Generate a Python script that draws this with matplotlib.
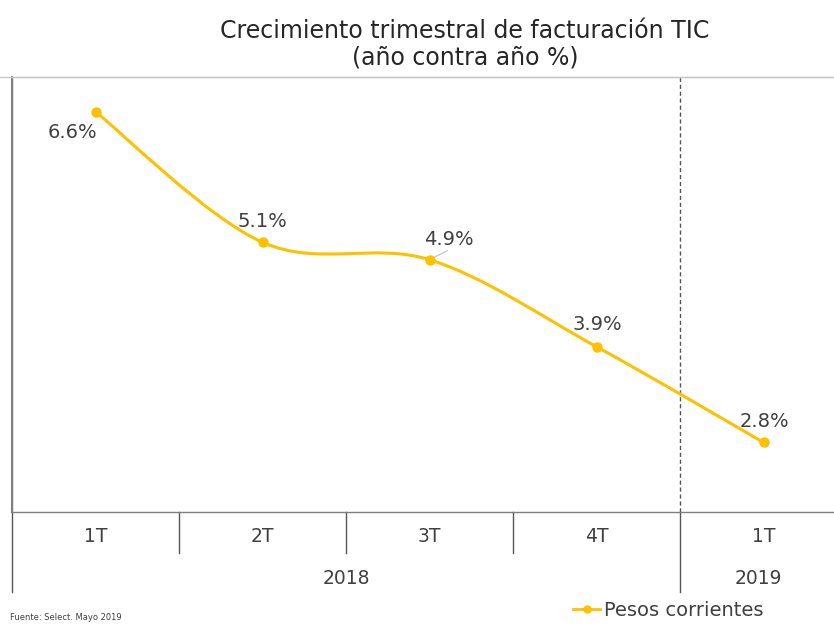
import matplotlib
matplotlib.use("Agg")
import matplotlib.pyplot as plt
from matplotlib.path import Path
from matplotlib.patches import PathPatch
from matplotlib.lines import Line2D

quarters = ["1T", "2T", "3T", "4T", "1T"]
years = ["2018", "2019"]
values = [6.6, 5.1, 4.9, 3.9, 2.8]
labels = ["6.6%", "5.1%", "4.9%", "3.9%", "2.8%"]
series_name = "Pesos corrientes"
title = "Crecimiento trimestral de facturación TIC\n(año contra año %)"
source = "Fuente: Select. Mayo 2019"

GOLD = "#FFC000"
TXT = "#404040"
GRID = "#7f7f7f"

W, H = 834, 628
fig = plt.figure(figsize=(W / 100, H / 100), dpi=100)
ax_left, ax_bottom, ax_top = 12, 512, 77
ax = fig.add_axes([ax_left / W, (H - ax_bottom) / H, 1 - ax_left / W, (ax_bottom - ax_top) / H])

step = 167.0
ax.set_xlim(-0.5, -0.5 + (W - ax_left) / step)
ax.set_ylim(2.0, 7.0)

xs = list(range(len(values)))
# smoothed line via Bezier segments (Catmull-Rom style control points)
pts = list(zip(xs, values))
verts = [pts[0]]
codes = [Path.MOVETO]
n = len(pts)
for i in range(n - 1):
    p0 = pts[i - 1] if i > 0 else pts[i]
    p1 = pts[i]
    p2 = pts[i + 1]
    p3 = pts[i + 2] if i + 2 < n else pts[i + 1]
    c1 = (p1[0] + (p2[0] - p0[0]) / 6, p1[1] + (p2[1] - p0[1]) / 6)
    c2 = (p2[0] - (p3[0] - p1[0]) / 6, p2[1] - (p3[1] - p1[1]) / 6)
    verts += [c1, c2, p2]
    codes += [Path.CURVE4] * 3
ax.add_patch(PathPatch(Path(verts, codes), facecolor="none", edgecolor=GOLD, lw=2.2, zorder=3))
ax.plot(xs, values, linestyle="none", marker="o", ms=6.5, color=GOLD, zorder=4)

offsets = [(-23, -21), (0, 21), (19, 20), (1, 22), (1, 21)]
for i, (x, v, lab, (dx, dy)) in enumerate(zip(xs, values, labels, offsets)):
    ax.annotate(lab, (x, v), xytext=(dx, dy), textcoords="offset pixels",
                ha="center", va="center", fontsize=14, color=TXT)
# small leader line for the 4.9% label
ax.annotate("", (xs[2], values[2]), xytext=(18, 9), textcoords="offset pixels",
            arrowprops=dict(arrowstyle="-", color="#bfbfbf", lw=0.8, shrinkA=0, shrinkB=3))

# spines
ax.spines["right"].set_visible(False)
ax.spines["top"].set_color("#c8c8c8")
ax.spines["left"].set_color(GRID)
ax.spines["bottom"].set_color(GRID)
for s in ["left", "bottom", "top"]:
    ax.spines[s].set_linewidth(1.0)

ax.set_yticks([])
ax.set_xticks(xs)
ax.set_xticklabels(quarters, fontsize=13.5, color=TXT)
ax.tick_params(axis="x", length=0, pad=11)

trans = ax.get_xaxis_transform()
hpx = ax_bottom - ax_top
# dashed year separator
ax.plot([3.5, 3.5], [0, 1], transform=trans, color="#555555", lw=1.0, ls=(0, (3, 2)), zorder=2)
# category separators below the axis
for xb in [0.5, 1.5, 2.5]:
    ax.plot([xb, xb], [0, -41 / hpx], transform=trans, color="#555555", lw=1.0, clip_on=False)
for xb in [-0.5, 3.5]:
    ax.plot([xb, xb], [0, -80 / hpx], transform=trans, color="#555555", lw=1.0, clip_on=False)
ax.plot([-0.5, -0.5], [0, 1], transform=trans, color=GRID, lw=1.5, clip_on=False)

ax.text(1.5, -66 / hpx, years[0], transform=trans, ha="center", va="center", fontsize=13.5, color=TXT)
ax.text(3.97, -66 / hpx, years[1], transform=trans, ha="center", va="center", fontsize=13.5, color=TXT)

# horizontal top rule across full width
fig.add_artist(Line2D([0, 1], [(H - ax_top) / H] * 2, color="#c8c8c8", lw=1.0))

fig.text(465 / W, 1 - 44 / H, title, ha="center", va="center", fontsize=17, color="#262626", linespacing=1.12)
fig.text(10 / W, 1 - 618 / H, source, ha="left", va="center", fontsize=6, color=TXT)

handle = Line2D([], [], color=GOLD, lw=2.0, marker="o", ms=5)
fig.legend([handle], [series_name], loc="center left", bbox_to_anchor=(573 / W, 1 - 610 / H),
           frameon=False, fontsize=14, handlelength=1.4, handletextpad=0.2, labelcolor=TXT,
           borderpad=0, borderaxespad=0)

fig.savefig("out.png", dpi=100)
